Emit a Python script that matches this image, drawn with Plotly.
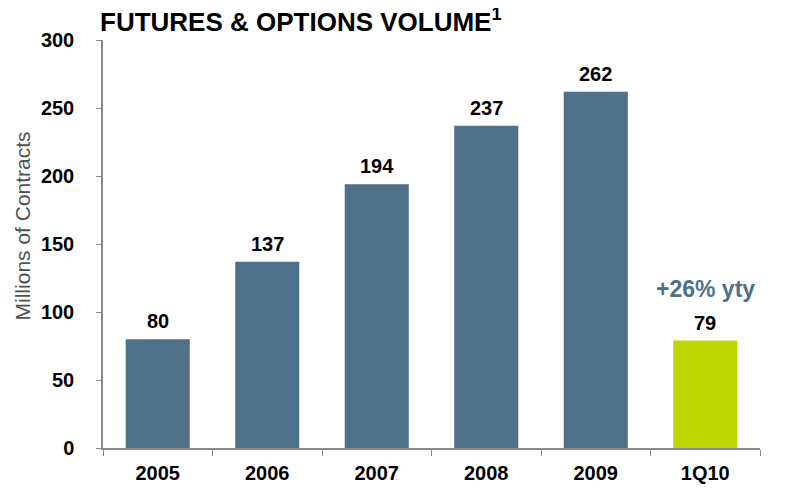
import plotly.graph_objects as go

categories = ["2005", "2006", "2007", "2008", "2009", "1Q10"]
volumes = [80, 137, 194, 237, 262, 79]
bar_colors = ["#4E7189", "#4E7189", "#4E7189", "#4E7189", "#4E7189", "#BFD500"]
y_ticks = [0, 50, 100, 150, 200, 250, 300]

FONT = "Liberation Sans, Arial, sans-serif"

fig = go.Figure()
fig.add_trace(go.Bar(
    x=categories, y=volumes,
    marker=dict(color=bar_colors, line=dict(width=0)),
    width=0.585,
    hoverinfo="skip",
))

annotations = []
for i, v in enumerate(volumes):
    annotations.append(dict(
        x=i, y=v, xref="x", yref="y", text=f"<b>{v}</b>", showarrow=False,
        yanchor="bottom", yshift=5,
        font=dict(family=FONT, size=20, color="#000000"),
    ))
annotations.append(dict(
    x=len(volumes) - 1, y=volumes[-1], xref="x", yref="y", text="<b>+26% yty</b>",
    showarrow=False, yanchor="bottom", yshift=37,
    font=dict(family=FONT, size=23, color="#4E7189"),
))
annotations.append(dict(
    x=0, y=1, xref="paper", yref="paper",
    text="<b>FUTURES &amp; OPTIONS VOLUME<sup>1</sup></b>",
    showarrow=False, xanchor="left", yanchor="middle", xshift=-5, yshift=20,
    font=dict(family=FONT, size=26, color="#000000"),
))
annotations.append(dict(
    x=0, y=0.543, xref="paper", yref="paper", text="Millions of Contracts",
    showarrow=False, textangle=-90, xanchor="center", yanchor="middle", xshift=-81,
    font=dict(family=FONT, size=21, color="#505050"),
))

fig.update_layout(
    width=781, height=480,
    margin=dict(l=95, r=29, t=32, b=40),
    plot_bgcolor="white", paper_bgcolor="white",
    showlegend=False,
    annotations=annotations,
    xaxis=dict(
        type="category", tickson="boundaries", categoryorder="array", categoryarray=categories,
        range=[-0.5, len(categories) - 0.5], automargin=False, tickangle=0,
        showline=True, linecolor="#888888", linewidth=1.5,
        ticks="outside", ticklen=6, tickcolor="#888888", tickwidth=1,
        showgrid=False, zeroline=False,
        tickfont=dict(family=FONT, size=20, color="#000000", weight="bold"),
        ticklabelstandoff=6,
    ),
    yaxis=dict(
        range=[0, 300], tickvals=y_ticks, automargin=False,
        showline=True, linecolor="#888888", linewidth=1.5,
        ticks="outside", ticklen=5, tickcolor="#888888", tickwidth=1,
        showgrid=False, zeroline=False,
        tickfont=dict(family=FONT, size=20, color="#000000", weight="bold"),
        ticklabelstandoff=18,
    ),
)

fig.write_html("out.html")
